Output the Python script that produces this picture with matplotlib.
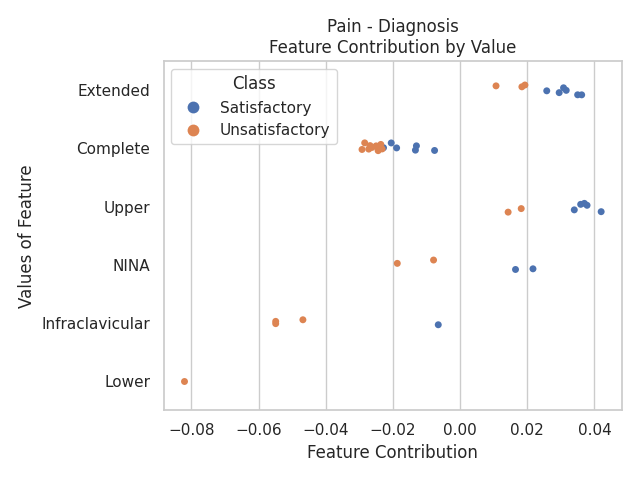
import numpy as np
import pandas as pd
import matplotlib
matplotlib.use('Agg')
import matplotlib.pyplot as plt
import seaborn as sns

# Feature values, top to bottom
categories = ['Extended', 'Complete', 'Upper', 'NINA', 'Infraclavicular', 'Lower']
classes = ['Satisfactory', 'Unsatisfactory']

# Contributions
satisfactory = {
    'Extended': [0.0258, 0.0295, 0.0308, 0.0316, 0.0350, 0.0362],
    'Complete': [-0.0228, -0.0205, -0.0189, -0.0133, -0.0130, -0.0076],
    'Upper': [0.0340, 0.0359, 0.0370, 0.0378, 0.0420],
    'NINA': [0.0165, 0.0217],
    'Infraclavicular': [-0.0065],
    'Lower': [],
}
unsatisfactory = {
    'Extended': [0.0107, 0.0184, 0.0193],
    'Complete': [-0.0292, -0.0284, -0.0272, -0.0268, -0.0262, -0.0250,
                 -0.0244, -0.0240, -0.0236, -0.0232],
    'Upper': [0.0143, 0.0182],
    'NINA': [-0.0187, -0.0079],
    'Infraclavicular': [-0.0549, -0.0549, -0.0468],
    'Lower': [-0.0821],
}

rows = []
for cls, d in zip(classes, [satisfactory, unsatisfactory]):
    for cat in categories:
        for v in d[cat]:
            rows.append({'Values of Feature': cat, 'Feature Contribution': v, 'Class': cls})
df = pd.DataFrame(rows)

sns.set_theme(style='whitegrid')
np.random.seed(3)
fig, ax = plt.subplots(figsize=(6.4, 4.8), dpi=100)
sns.stripplot(data=df, x='Feature Contribution', y='Values of Feature', hue='Class',
              order=categories, hue_order=classes, jitter=True, ax=ax)
ax.set_title('Pain - Diagnosis\nFeature Contribution by Value')
#bigger legend markers like the original
sns.move_legend(ax, 'upper left', title='Class', markerscale=1.7)
plt.tight_layout()
plt.savefig('out.png')
